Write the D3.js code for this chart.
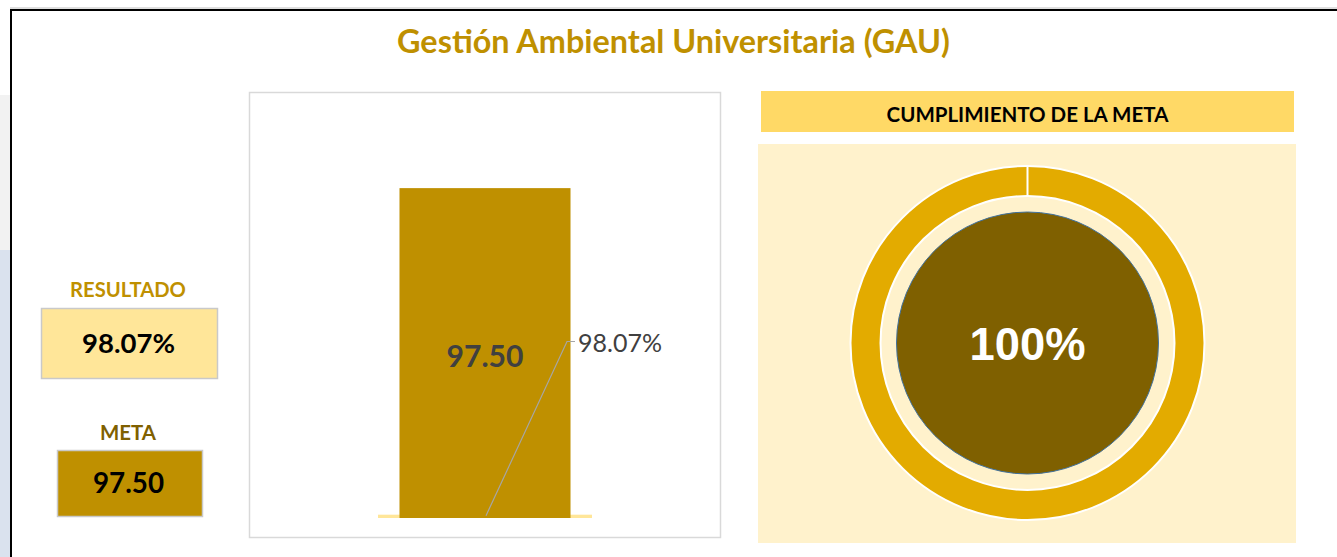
<!DOCTYPE html>
<html><head><meta charset="utf-8">
<script src="https://cdn.jsdelivr.net/npm/d3@7"></script>
<style>html,body{margin:0;padding:0;background:#fff;}svg{display:block;}</style>
</head><body>
<svg id="c" width="1337" height="557"></svg>
<script>
// ---- data ----
const titleText = "Gestión Ambiental Universitaria (GAU)";
const categories = ["GAU"];
const resultadoValues = [98.07];   // percent (shown as wide thin bar, 0.9807 on bar scale)
const metaValues = [97.50];
const cumplimientoValues = [100, 0];
const yDomain = [0, 120];
const resultadoLabel = "RESULTADO";
const metaLabel = "META";
const headerLabel = "CUMPLIMIENTO DE LA META";

const svg = d3.select("#c");
const calibri = "Lato, 'Open Sans', sans-serif";

function fit(t, w){
  let fs = parseFloat(t.attr("font-size"));
  const len = t.node().getComputedTextLength();
  t.attr("font-size", fs * w / len);
  return t;
}

// left decoration (background outside frame)
svg.append("rect").attr("x",0).attr("y",95).attr("width",10).attr("height",160).attr("fill","#f2f2f2");
svg.append("rect").attr("x",0).attr("y",250).attr("width",10).attr("height",307).attr("fill","#dae2ee");
// frame
svg.append("line").attr("x1",10).attr("x2",1337).attr("y1",8).attr("y2",8).attr("stroke","#bfbfbf").attr("stroke-width",1);
svg.append("line").attr("x1",10).attr("x2",1337).attr("y1",10).attr("y2",10).attr("stroke","#000").attr("stroke-width",2);
svg.append("line").attr("x1",11).attr("x2",11).attr("y1",9).attr("y2",557).attr("stroke","#000").attr("stroke-width",2);

// title
fit(svg.append("text").attr("x",673.5).attr("y",53).attr("text-anchor","middle")
  .attr("font-family",calibri).attr("font-weight","bold").attr("font-size",28)
  .attr("fill","#BF9000").text(titleText), 553);

// left boxes
fit(svg.append("text").attr("x",128).attr("y",297).attr("text-anchor","middle")
  .attr("font-family",calibri).attr("font-weight","bold").attr("font-size",18)
  .attr("fill","#BF9000").text(resultadoLabel), 116);
svg.append("rect").attr("x",41.5).attr("y",308.5).attr("width",176).attr("height",70)
  .attr("fill","#FFE699").attr("stroke","#c9c9c9").attr("stroke-width",1.5);
fit(svg.append("text").attr("x",128.5).attr("y",353).attr("text-anchor","middle")
  .attr("font-family",calibri).attr("font-weight","bold").attr("font-size",26)
  .attr("fill","#000").text(d3.format(".2f")(resultadoValues[0])+"%"), 93);

fit(svg.append("text").attr("x",128).attr("y",440).attr("text-anchor","middle")
  .attr("font-family",calibri).attr("font-weight","bold").attr("font-size",18)
  .attr("fill","#7F6000").text(metaLabel), 56);
svg.append("rect").attr("x",57.5).attr("y",450.5).attr("width",145).attr("height",66)
  .attr("fill","#BF9000").attr("stroke","#c9c9c9").attr("stroke-width",1.5);
fit(svg.append("text").attr("x",128.5).attr("y",493).attr("text-anchor","middle")
  .attr("font-family",calibri).attr("font-weight","bold").attr("font-size",26)
  .attr("fill","#000").text(d3.format(".2f")(metaValues[0])), 71);

// bar chart panel
svg.append("rect").attr("x",249.5).attr("y",92.5).attr("width",471).attr("height",445)
  .attr("fill","#fff").attr("stroke","#d9d9d9").attr("stroke-width",1.5);

const y = d3.scaleLinear().domain(yDomain).range([518, 112]);
const xWide = d3.scaleBand().domain(categories).range([249, 721]).paddingInner(0).paddingOuter(0.603);
const xBar = d3.scaleBand().domain(categories).range([249, 721]).paddingInner(0).paddingOuter(0.88);

// resultado as wide thin bar (value / 100 on bar scale)
svg.selectAll(".res").data(resultadoValues).join("rect").attr("class","res")
  .attr("x",(d,i)=>xWide(categories[i])).attr("width",xWide.bandwidth())
  .attr("y",d=>y(d/100)).attr("height",d=>y(0)-y(d/100)).attr("fill","#FFE699");
// meta bar
svg.selectAll(".meta").data(metaValues).join("rect").attr("class","meta")
  .attr("x",(d,i)=>xBar(categories[i])).attr("width",xBar.bandwidth())
  .attr("y",d=>y(d)).attr("height",d=>y(0)-y(d)).attr("fill","#BF9000");

// bar label
metaValues.forEach((d,i)=>{
  const cx = xBar(categories[i]) + xBar.bandwidth()/2;
  fit(svg.append("text").attr("x",cx).attr("y",367).attr("text-anchor","middle")
    .attr("font-family",calibri).attr("font-weight","bold").attr("font-size",28)
    .attr("fill","#404040").text(d3.format(".2f")(d)), 77);
});
// resultado label with leader line
resultadoValues.forEach((d,i)=>{
  const cx = xWide(categories[i]) + xWide.bandwidth()/2;
  const py = y(d/100) + 1;
  svg.append("path").attr("d",`M${cx+1},${py} L567,341.5 L575,341.5`)
    .attr("fill","none").attr("stroke","#a6a6a6").attr("stroke-width",1.2);
  fit(svg.append("text").attr("x",578).attr("y",352)
    .attr("font-family",calibri).attr("font-size",22)
    .attr("fill","#404040").text(d3.format(".2f")(d)+"%"), 84);
});

// right header
svg.append("rect").attr("x",761).attr("y",91).attr("width",533).attr("height",41).attr("fill","#FFD966");
fit(svg.append("text").attr("x",1027.5).attr("y",122).attr("text-anchor","middle")
  .attr("font-family",calibri).attr("font-weight","bold").attr("font-size",20)
  .attr("fill","#000").text(headerLabel), 282);
svg.append("rect").attr("x",758).attr("y",144).attr("width",538).attr("height",399).attr("fill","#FFF2CC");

// donut
const cx = 1027.5, cy = 343;
const g = svg.append("g").attr("transform",`translate(${cx},${cy})`);
const pie = d3.pie().sort(null).value(d=>d);
const arc = d3.arc().innerRadius(147).outerRadius(177);
g.selectAll("path.ring").data(pie(cumplimientoValues)).join("path").attr("class","ring")
  .attr("d",arc).attr("fill","#E3AB00").attr("stroke","#fff").attr("stroke-width",2);
// inner circle
g.append("circle").attr("r",131).attr("fill","#7F6000").attr("stroke","#41719C").attr("stroke-width",1);
fit(g.append("text").attr("x",0).attr("y",17).attr("text-anchor","middle")
  .attr("font-family","Liberation Sans, Arial, sans-serif").attr("font-weight","bold").attr("font-size",46)
  .attr("fill","#fff").text(d3.format("d")(cumplimientoValues[0])+"%"), 116);
</script>
</body></html>
